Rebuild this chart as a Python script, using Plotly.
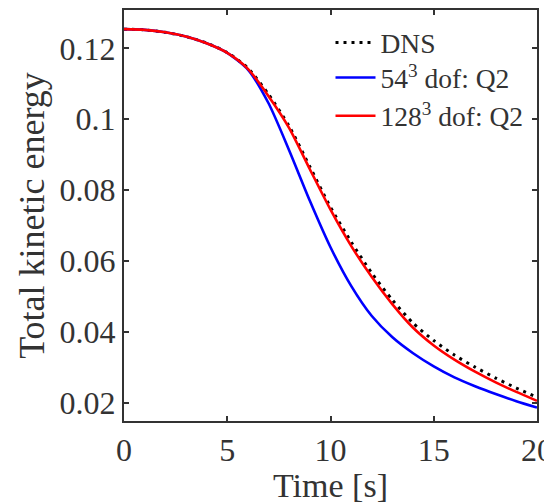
import plotly.graph_objects as go

time_s = [0, 1, 2, 3, 4, 5, 6, 7, 8, 9, 10, 11, 12, 13, 14, 15, 16, 17, 18, 19, 20]
dns = [0.1254, 0.1252, 0.1245, 0.1233, 0.1215, 0.1188, 0.1144, 0.1070, 0.0980, 0.0866,
       0.0752, 0.0654, 0.0566, 0.0490, 0.0425, 0.0376, 0.0335, 0.0301, 0.0270, 0.0242, 0.0216]
q2_54 = [0.1254, 0.1252, 0.1245, 0.1233, 0.1214, 0.1187, 0.1140, 0.1045, 0.0912, 0.0770,
         0.0639, 0.0530, 0.0445, 0.0385, 0.0340, 0.0303, 0.0272, 0.0247, 0.0225, 0.0205, 0.0187]
q2_128 = [0.1254, 0.1252, 0.1245, 0.1233, 0.1214, 0.1187, 0.1142, 0.1065, 0.0975, 0.0859,
          0.0745, 0.0643, 0.0555, 0.0478, 0.0412, 0.0362, 0.0322, 0.0288, 0.0258, 0.0231, 0.0206]

x_ticks = [0, 5, 10, 15, 20]
y_ticks = [0.02, 0.04, 0.06, 0.08, 0.1, 0.12]
y_ticklabels = ["0.02", "0.04", "0.06", "0.08", "0.1", "0.12"]

FONT = "Liberation Serif"
AX = "#333333"

fig = go.Figure()
fig.add_trace(go.Scatter(x=time_s, y=dns, mode="lines", name="DNS", legend="legend",
                         line=dict(color="black", width=3, dash="3px,5px", shape="spline", smoothing=0.7)))
fig.add_trace(go.Scatter(x=time_s, y=q2_54, mode="lines", name="54<sup>3</sup> dof: Q2", legend="legend2",
                         line=dict(color="#0000FF", width=2.6, shape="spline", smoothing=0.7)))
fig.add_trace(go.Scatter(x=time_s, y=q2_128, mode="lines", name="128<sup>3</sup> dof: Q2", legend="legend3",
                         line=dict(color="#FF0000", width=2.6, shape="spline", smoothing=0.7)))

axis_common = dict(showline=True, linecolor=AX, linewidth=2, mirror="ticks", ticks="inside",
                   ticklen=5, tickwidth=1.5, tickcolor=AX, showgrid=False, zeroline=False,
                   tickfont=dict(family=FONT, size=32, color=AX), automargin=False)

leg_common = dict(x=0.50, xanchor="left", yanchor="top", bgcolor="rgba(0,0,0,0)",
                  font=dict(family=FONT, size=27.5, color=AX), itemwidth=40)

fig.update_layout(
    width=544, height=496,
    margin=dict(l=116, r=15, t=2, b=83),
    plot_bgcolor="white", paper_bgcolor="white",
    font=dict(family=FONT, color=AX),
    xaxis=dict(range=[0, 20], tickvals=x_ticks, ticktext=[str(v) for v in x_ticks],
               ticklabeloverflow="allow",
               title=dict(text="Time [s]", standoff=0, font=dict(family=FONT, size=34, color=AX)),
               **axis_common),
    yaxis=dict(range=[0.0149, 0.1308], tickvals=y_ticks, ticktext=y_ticklabels,
               title=dict(text="Total kinetic energy", standoff=4, font=dict(family=FONT, size=36, color=AX)),
               **axis_common),
    legend=dict(y=0.98, **leg_common),
    legend2=dict(y=0.895, **leg_common),
    legend3=dict(y=0.802, **leg_common),
    showlegend=True,
)

fig.write_html("out.html")
